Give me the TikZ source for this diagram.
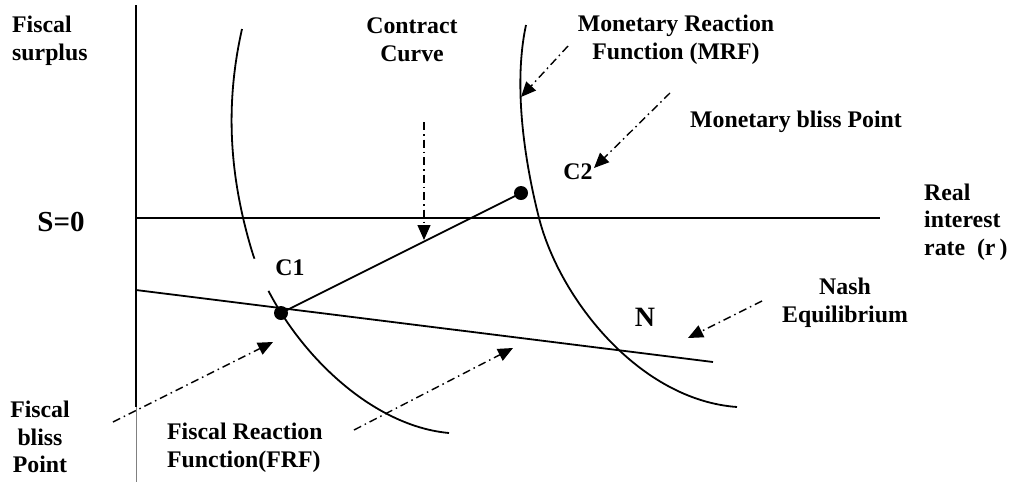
\documentclass[tikz,border=0pt]{standalone}
\usepackage{fontspec}
\setmainfont{Liberation Serif}
\usetikzlibrary{arrows.meta}
\begin{document}
\begin{tikzpicture}[x=1pt,y=-1pt,
  lbl/.style={font=\bfseries\fontsize{23.8}{27.5}\selectfont, inner sep=0pt, align=center},
  big/.style={font=\bfseries\fontsize{29}{32}\selectfont, inner sep=0pt},
  solidline/.style={line width=1.8pt},
  curveline/.style={line width=1.8pt},
  darrow/.style={line width=1.4pt, dash pattern=on 8pt off 4pt on 1.5pt off 4pt,
                 -{Triangle[length=15pt,width=13pt]}},
  dot/.style={circle, fill=black, inner sep=0pt, minimum size=14pt}]
\useasboundingbox (0,0) rectangle (1012,483);
% axes
\coordinate (ytop) at (136,5);
\coordinate (ymid) at (136,407);
\coordinate (ybot) at (136,482);
\coordinate (xl) at (136,218);
\coordinate (xr) at (880,218);
\draw[solidline] (ytop) -- (ymid);
\draw[line width=0.6pt, gray] (ymid) -- (ybot);
\draw[solidline] (xl) -- (xr);
% fiscal indifference curve
\draw[curveline] (242,29) .. controls (226,100) and (228,170) .. (251,248)
                 .. controls (275,330) and (360,425) .. (449,433);
\fill[white] (246,262) -- (262,256) -- (273,289) -- (257,295) -- cycle;
% monetary reaction curve
\draw[curveline] (526,25) .. controls (512,90) and (527,171) .. (539,218)
                 .. controls (560,300) and (640,400) .. (737,407);
% FRF line
\coordinate (frfL) at (136,290);
\coordinate (frfR) at (713,362);
\draw[solidline] (frfL) -- (frfR);
% points
\node[dot] (C1d) at (281,313) {};
\node[dot] (C2d) at (521,193) {};
\draw[solidline] (C1d.center) -- (C2d.center);
% arrows
\coordinate (a1s) at (424,122); \coordinate (a1e) at (424,240);
\coordinate (a2s) at (568,46);  \coordinate (a2e) at (521,97);
\coordinate (a3s) at (670,93);  \coordinate (a3e) at (594,168);
\coordinate (a4s) at (113,422); \coordinate (a4e) at (273,342);
\coordinate (a5s) at (354,430); \coordinate (a5e) at (513,348);
\coordinate (a6s) at (762,301); \coordinate (a6e) at (688,338);
\draw[darrow] (a1s) -- (a1e);
\draw[darrow] (a2s) -- (a2e);
\draw[darrow] (a3s) -- (a3e);
\draw[darrow] (a4s) -- (a4e);
\draw[darrow] (a5s) -- (a5e);
\draw[darrow] (a6s) -- (a6e);
% labels
\node[lbl, anchor=west, align=left] (fs) at (12,41) {Fiscal\\surplus};
\node[big] (s0) at (61,222) {S=0};
\node[lbl] (cc) at (412,40) {Contract\\Curve};
\node[lbl] (mrf) at (676,40) {Monetary Reaction\\Function (MRF)};
\node[lbl] (mbp) at (796,122) {Monetary bliss Point};
\node[lbl] (c2) at (578,172) {C2};
\node[lbl, anchor=west, align=left] (rr) at (924,222) {Real\\interest\\rate\ \ (r\,)};
\node[lbl] (c1) at (290,268) {C1};
\node[big, font=\bfseries\fontsize{28}{31}\selectfont] (n) at (645,317) {N};
\node[lbl] (ne) at (845,303) {Nash\\Equilibrium};
\node[lbl] (fbp) at (40,437) {Fiscal\\bliss\\Point};
\node[lbl, anchor=west, align=left] (frf) at (167,448) {Fiscal Reaction\\Function(FRF)};
\end{tikzpicture}
\end{document}
